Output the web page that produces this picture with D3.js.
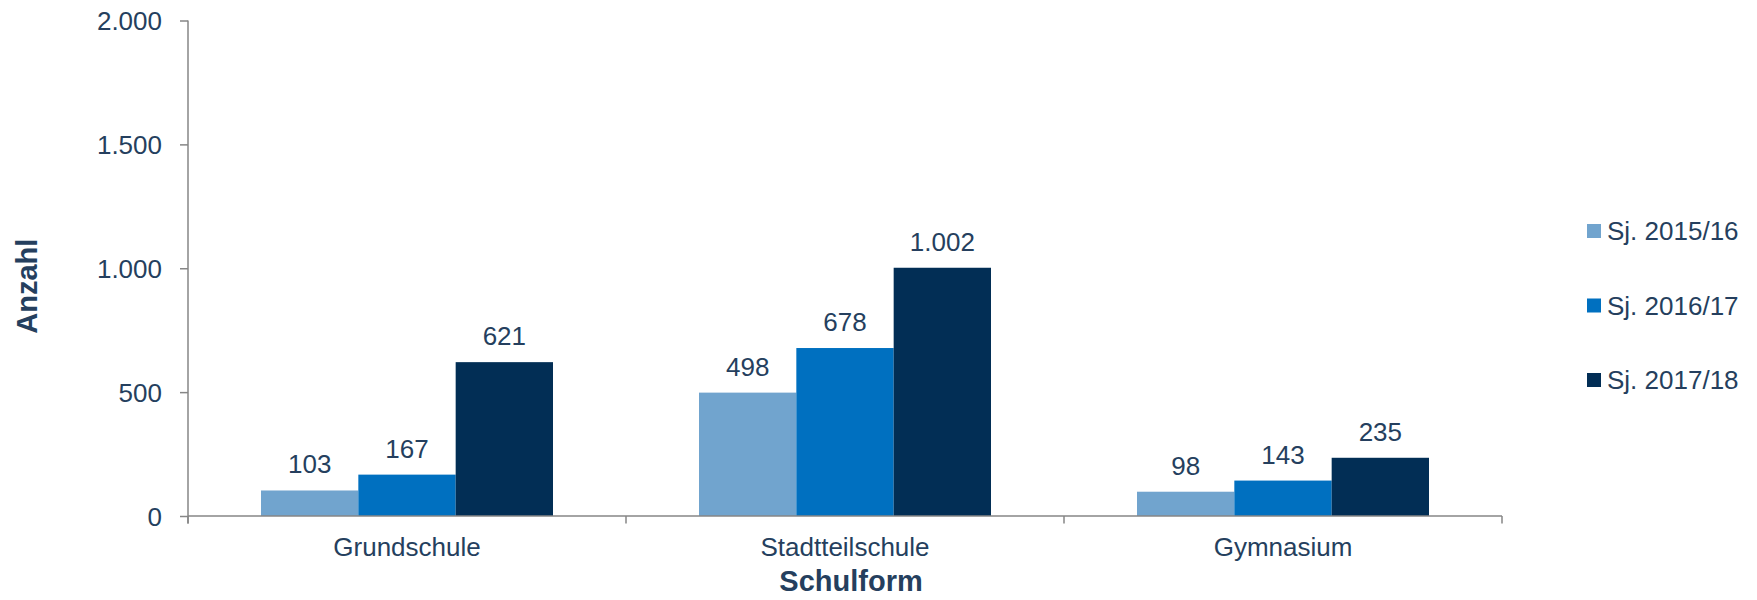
<!DOCTYPE html>
<html>
<head>
<meta charset="utf-8">
<script src="https://cdn.jsdelivr.net/npm/d3@7"></script>
<style>
  html, body { margin: 0; padding: 0; background: #fff; }
  svg { display: block; font-family: "Liberation Sans", Arial, sans-serif; }
</style>
</head>
<body>
<svg id="chart" width="1757" height="600"></svg>
<script>
const categories = ["Grundschule", "Stadtteilschule", "Gymnasium"];
const seriesNames = ["Sj. 2015/16", "Sj. 2016/17", "Sj. 2017/18"];
const values2015 = [103, 498, 98];
const values2016 = [167, 678, 143];
const values2017 = [621, 1002, 235];
const yTicks = [0, 500, 1000, 1500, 2000];
const yTickLabels = ["0", "500", "1.000", "1.500", "2.000"];
const colors = ["#71A4CE", "#0070C0", "#022E55"];
const yTitle = "Anzahl";
const xTitle = "Schulform";

(function () {
const seriesValues = [values2015, values2016, values2017];
const textColor = "#253F5E";
const axisColor = "#868686";
const fs = "26px";
const fmt = v => v.toLocaleString("de-DE");

const svg = d3.select("#chart");
const mLeft = 188, mRight = 1502, mTop = 20.5, mBottom = 516;

const x0 = d3.scaleBand().domain(categories).range([mLeft, mRight]).paddingInner(0).paddingOuter(0);
const x1 = d3.scaleBand().domain(seriesNames).range([0, x0.bandwidth()]).paddingInner(0).paddingOuter(0.75);
const y = d3.scaleLinear().domain([0, 2000]).range([mBottom, mTop]);

const data = [];
categories.forEach((c, ci) => {
  seriesNames.forEach((s, si) => {
    data.push({ cat: c, ser: s, si: si, value: seriesValues[si][ci] });
  });
});

svg.append("g").selectAll("rect").data(data).join("rect")
  .attr("x", d => x0(d.cat) + x1(d.ser))
  .attr("y", d => y(d.value))
  .attr("width", x1.bandwidth())
  .attr("height", d => y(0) - y(d.value))
  .attr("fill", d => colors[d.si]);

svg.append("g").selectAll("text").data(data).join("text")
  .attr("x", d => x0(d.cat) + x1(d.ser) + x1.bandwidth() / 2)
  .attr("y", d => y(d.value) - 17)
  .attr("text-anchor", "middle")
  .attr("font-size", fs)
  .attr("fill", textColor)
  .text(d => fmt(d.value));

const yAxis = d3.axisLeft(y).tickValues(yTicks).tickSize(8).tickPadding(18)
  .tickFormat((d, i) => yTickLabels[i]);
const gy = svg.append("g").attr("transform", `translate(${mLeft},0)`).call(yAxis);
gy.select(".domain").attr("stroke", axisColor).attr("stroke-width", 1.5)
  .attr("d", `M0,${mTop}H0V${mBottom + 7.5}`);
gy.selectAll(".tick line").attr("stroke", axisColor).attr("stroke-width", 1.5);
gy.selectAll(".tick text").attr("font-size", fs).attr("fill", textColor)
  .attr("font-family", "Liberation Sans, Arial, sans-serif").attr("dy", "0.35em");

const xAxis = d3.axisBottom(x0).tickSize(0).tickPadding(0);
const gx = svg.append("g").attr("transform", `translate(0,${mBottom})`).call(xAxis);
gx.select(".domain").attr("stroke", axisColor).attr("stroke-width", 1.5)
  .attr("d", `M${mLeft},0H${mRight}`);
gx.selectAll(".tick text").attr("font-size", fs).attr("fill", textColor)
  .attr("font-family", "Liberation Sans, Arial, sans-serif")
  .attr("y", 40).attr("dy", 0);
const boundaries = categories.map(c => x0(c)).concat([x0(categories[categories.length - 1]) + x0.bandwidth()]);
gx.append("g").selectAll("line").data(boundaries).join("line")
  .attr("x1", d => d).attr("x2", d => d).attr("y1", 0).attr("y2", 7.5)
  .attr("stroke", axisColor).attr("stroke-width", 1.5);

svg.append("text")
  .attr("transform", `translate(37,${(mTop + mBottom) / 2 + 18}) rotate(-90)`)
  .attr("text-anchor", "middle")
  .attr("font-size", "29px").attr("font-weight", "bold").attr("fill", textColor)
  .text(yTitle);

svg.append("text")
  .attr("x", (mLeft + mRight) / 2 + 6).attr("y", 591)
  .attr("text-anchor", "middle")
  .attr("font-size", "29px").attr("font-weight", "bold").attr("fill", textColor)
  .text(xTitle);

const legendY = [231, 305.5, 380];
const lg = svg.append("g").selectAll("g").data(seriesNames).join("g")
  .attr("transform", (d, i) => `translate(1587,${legendY[i]})`);
lg.append("rect").attr("x", 0).attr("y", -7).attr("width", 14).attr("height", 14)
  .attr("fill", (d, i) => colors[i]);
lg.append("text").attr("x", 20).attr("y", 0).attr("dy", "0.35em")
  .attr("font-size", fs).attr("fill", textColor).text(d => d);
})();
</script>
</body>
</html>
